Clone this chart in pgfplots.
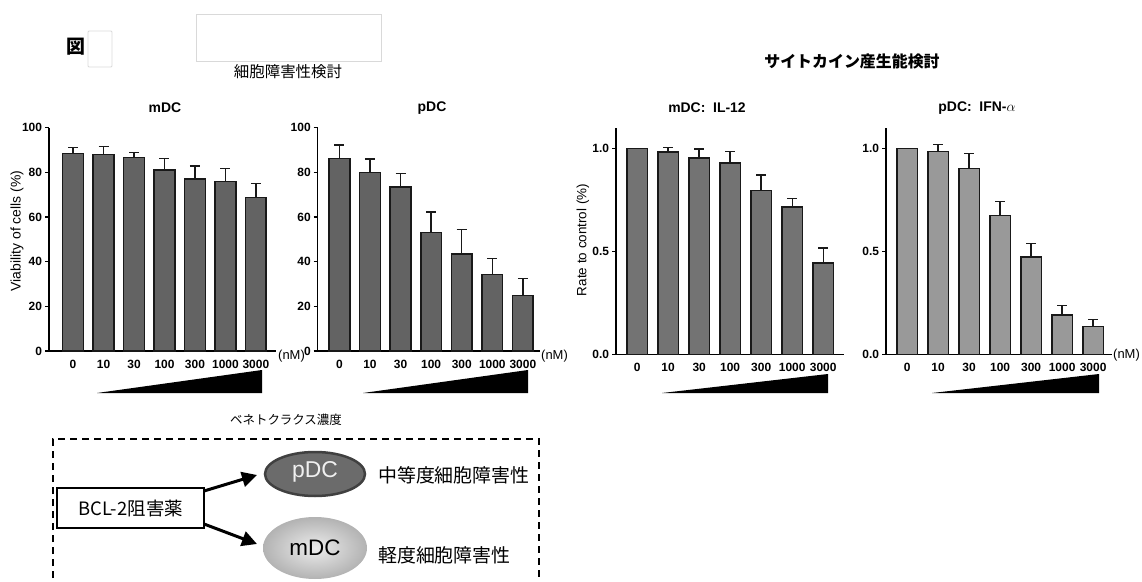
\documentclass[border=0pt]{standalone}
\usepackage{fontspec}
\setmainfont{Liberation Sans}
\newfontfamily\cjk{Noto Sans CJK JP}
\usepackage{pgfplots}
\usepackage{pgfplotstable}
\pgfplotsset{compat=1.18}
\usetikzlibrary{arrows.meta,shadings}

\pgfplotstableread{
x y e
0 88.4 2.6
1 88.0 3.7
2 86.7 2.1
3 81.0 5.3
4 77.0 5.8
5 75.8 5.8
6 68.8 6.3
}\mdc
\pgfplotstableread{
x y e
0 86.3 6.0
1 80.0 6.0
2 73.5 6.0
3 53.0 9.2
4 43.5 11.0
5 34.3 7.2
6 24.8 7.7
}\pdc
\pgfplotstableread{
x y e
0 1.000 0.000
1 0.981 0.022
2 0.953 0.044
3 0.929 0.055
4 0.794 0.076
5 0.716 0.041
6 0.444 0.073
}\ilxii
\pgfplotstableread{
x y e
0 1.000 0.000
1 0.985 0.034
2 0.903 0.073
3 0.674 0.067
4 0.472 0.066
5 0.191 0.046
6 0.135 0.035
}\ifna

\definecolor{barA}{HTML}{636363}
\definecolor{barB}{HTML}{737373}
\definecolor{barC}{HTML}{999999}

\pgfplotsset{dcbar/.style={
  scale only axis, anchor=south west,
  axis x line*=bottom, axis y line*=left,
  axis line style={line width=1.5bp, black},
  ymin=0,
  xtick={0,...,6}, xticklabels={0,10,30,100,300,1000,3000},
  xtick style={draw=none},
  ytick style={line width=1.5bp, black},
  tick align=outside, major tick length=4bp,
  ticklabel style={font=\bfseries\fontsize{12}{13}\selectfont},
  xticklabel style={yshift=-1.5bp},
  yticklabel style={xshift=0.5bp},
  /pgf/number format/assume math mode=true,
  ybar, bar width=20.7bp,
  clip=false,
}}
\pgfplotsset{dcplot/.style={
  draw=black!90, line width=1.5bp,
  error bars/.cd, y dir=plus, y explicit,
  error bar style={line width=1.4bp, black!90},
  error mark options={rotate=90, mark size=5bp, line width=1.4bp, black!90},
}}

\begin{document}
\begin{tikzpicture}[x=1bp,y=-1bp]
\useasboundingbox (0,0) rectangle (1142,582);

% panel 1: mDC viability
\begin{axis}[dcbar, at={(49bp,-351bp)}, width=227bp, height=223.3bp,
  xmin=-0.79, xmax=6.66, ymax=100, ytick={0,20,...,100}]
\addplot[fill=barA, dcplot] table[x=x,y=y,y error=e] {\mdc};
\end{axis}

% panel 2: pDC viability
\begin{axis}[dcbar, at={(317.7bp,-351bp)}, width=222.3bp, height=223.3bp,
  xmin=-0.71, xmax=6.56, ymax=100, ytick={0,20,...,100}]
\addplot[fill=barA, dcplot] table[x=x,y=y,y error=e] {\pdc};
\end{axis}

% panel 3: mDC IL-12
\begin{axis}[dcbar, at={(616bp,-354.3bp)}, width=228bp, height=226.6bp,
  xmin=-0.68, xmax=6.67, ymax=1.1, ytick={0,0.5,1}, yticklabels={0.0,0.5,1.0}]
\addplot[fill=barB, dcplot] table[x=x,y=y,y error=e] {\ilxii};
\end{axis}

% panel 4: pDC IFN-alpha
\begin{axis}[dcbar, at={(886bp,-354.3bp)}, width=225.7bp, height=226.6bp,
  xmin=-0.68, xmax=6.6, ymax=1.1, ytick={0,0.5,1}, yticklabels={0.0,0.5,1.0}]
\addplot[fill=barC, dcplot] table[x=x,y=y,y error=e] {\ifna};
\end{axis}

% titles
\begin{scope}[every node/.style={font=\bfseries\fontsize{14}{16}\selectfont, inner sep=0}]
\node at (165,108) {mDC};
\node at (432,108) {pDC};
\node at (707,108) {mDC:\ \ IL-12};
\node at (977,108) {pDC:\ \ IFN-$\alpha$};
\end{scope}
\node[font=\cjk\bfseries\fontsize{16}{18}\selectfont, inner sep=0] at (852,61) {サイトカイン産生能検討};
\node[font=\cjk\fontsize{15.5}{18}\selectfont, inner sep=0] at (288,72) {細胞障害性検討};
\node[font=\cjk\bfseries\fontsize{19}{21}\selectfont, inner sep=0] at (76,47) {図};
\draw[gray!30, line width=0.8bp] (196,14) rectangle (381,61);
\draw[gray!30, line width=0.8bp, rounded corners=1bp] (88,31) rectangle (112,67);

% y labels
\node[rotate=90, font=\fontsize{14}{16}\selectfont, inner sep=0] at (17,231) {Viability of cells (\%)};
\node[rotate=90, font=\fontsize{13.5}{16}\selectfont, inner sep=0] at (583,240) {Rate to control (\%)};

% (nM)
\begin{scope}[every node/.style={font=\fontsize{13}{15}\selectfont, inner sep=0, anchor=west}]
\node at (278,356) {(nM)};
\node at (541,356) {(nM)};
\node at (1113,355) {(nM)};
\end{scope}

% concentration wedges
\fill[black] (97,393) -- (262,393) -- (262,370) -- cycle;
\fill[black] (363,393) -- (528,393) -- (528,370) -- cycle;
\fill[black] (662,393) -- (828,393) -- (828,374) -- cycle;
\fill[black] (932,393) -- (1099,393) -- (1099,374) -- cycle;

% bottom diagram
\node[font=\cjk\fontsize{12.5}{14}\selectfont, inner sep=0] at (286,420) {ベネトクラクス濃度};
\draw[line width=1.4bp, dash pattern=on 7bp off 5bp] (53,590) -- (53,439) -- (539,439) -- (539,590);
\draw[line width=1.5bp] (57,488) rectangle (204,528);
\node[font=\cjk\fontsize{18.5}{20}\selectfont, inner sep=0] at (130.5,508) {BCL-2阻害薬};
\draw[line width=3bp, -{Triangle[length=15bp,width=15bp]}] (204,491) -- (257,475);
\draw[line width=3bp, -{Triangle[length=15bp,width=15bp]}] (204,524) -- (257,544);
\draw[fill=black!58, draw=black!75, line width=2.5bp] (315,474) ellipse [x radius=50, y radius=22];
\node[font=\fontsize{23}{25}\selectfont, text=gray!12, inner sep=0] at (315,472) {pDC};
\shade[inner color=gray!15, outer color=gray!60] (315,548) ellipse [x radius=52, y radius=31];
\node[font=\fontsize{22.5}{25}\selectfont, inner sep=0] at (315,548) {mDC};
\node[font=\cjk\fontsize{19}{21}\selectfont, inner sep=0, anchor=west] at (378,475) {中等度細胞障害性};
\node[font=\cjk\fontsize{19}{21}\selectfont, inner sep=0, anchor=west] at (378,555) {軽度細胞障害性};
\end{tikzpicture}
\end{document}
